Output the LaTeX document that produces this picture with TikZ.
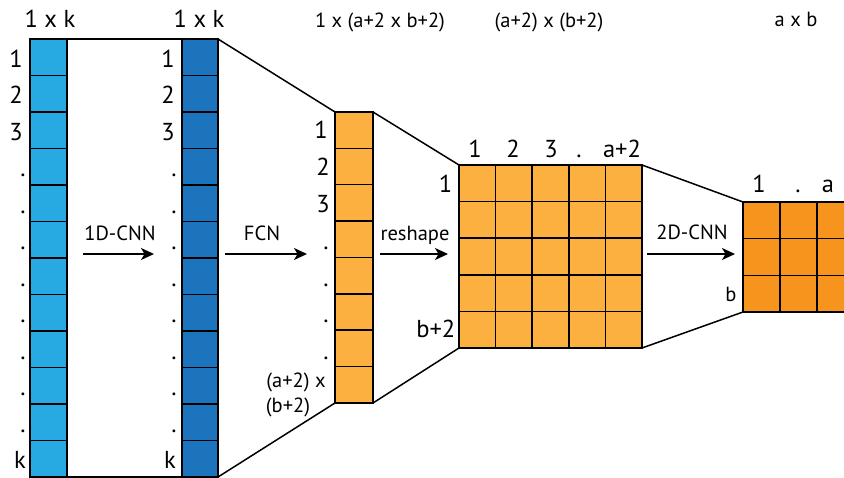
\documentclass[tikz,border=0pt]{standalone}
\usepackage{fontspec}
\setmainfont{PT Sans}
\usetikzlibrary{arrows.meta}
\definecolor{lblue}{HTML}{27AAE1}
\definecolor{dblue}{HTML}{1C75BC}
\definecolor{lorange}{HTML}{FBB040}
\definecolor{dorange}{HTML}{F7941D}
\begin{document}
\begin{tikzpicture}[x=1pt,y=-1pt,line width=1.5pt,
  cellbox/.style={draw=black,inner sep=0pt,outer sep=0pt,anchor=north west},
  bigtxt/.style={font=\fontsize{24.5}{25}\selectfont,inner sep=0pt,anchor=base},
  smalltxt/.style={font=\fontsize{20.5}{21}\selectfont,inner sep=0pt,anchor=base},
  flow/.style={-{Stealth[length=13pt,width=12pt,inset=3.5pt]},line width=1.5pt}]
\clip (0,0) rectangle (844,478);
% ---------- column 1 ----------
\node[cellbox,fill=lblue,minimum width=37pt,minimum height=438pt] (c1) at (30,39) {};
\foreach \i in {1,...,11} \draw (30,{39+36.5*\i}) -- (67,{39+36.5*\i});
\node[bigtxt] (c1l1) at (16,{39+36.5*1-8}) {1};
\node[bigtxt] (c1l2) at (16,{39+36.5*2-8}) {2};
\node[bigtxt] (c1l3) at (16,{39+36.5*3-8}) {3};
\foreach \i in {4,...,11} \node[bigtxt] (c1d\i) at (23,{39+36.5*\i-8}) {.};
\node[bigtxt] (c1lk) at (20,{39+36.5*12-9}) {k};
\node[bigtxt] (c1top) at (50,28) {1 x k};
% ---------- column 2 ----------
\node[cellbox,fill=dblue,minimum width=36pt,minimum height=438pt] (c2) at (182,39) {};
\foreach \i in {1,...,11} \draw (182,{39+36.5*\i}) -- (218,{39+36.5*\i});
\node[bigtxt] (c2l1) at (168,{39+36.5*1-8}) {1};
\node[bigtxt] (c2l2) at (168,{39+36.5*2-8}) {2};
\node[bigtxt] (c2l3) at (168,{39+36.5*3-8}) {3};
\foreach \i in {4,...,11} \node[bigtxt] (c2d\i) at (174,{39+36.5*\i-8}) {.};
\node[bigtxt] (c2lk) at (170,{39+36.5*12-9}) {k};
\node[bigtxt] (c2top) at (199,28) {1 x k};
% ---------- column 3 ----------
\node[cellbox,fill=lorange,minimum width=38pt,minimum height=291pt] (c3) at (335,112) {};
\foreach \i in {1,...,7} \draw (335,{112+36.375*\i}) -- (373,{112+36.375*\i});
\node[bigtxt] (c3l1) at (321,{112+36.375*1-9.5}) {1};
\node[bigtxt] (c3l2) at (323,{112+36.375*2-9}) {2};
\node[bigtxt] (c3l3) at (323,{112+36.375*3-9}) {3};
\foreach \i in {4,...,7} \node[bigtxt] (c3d\i) at (326,{112+36.375*\i-7.5}) {.};
\node[smalltxt] (c3la) at (296,388) {(a+2) x};
\node[smalltxt] (c3lb) at (288,413) {(b+2)};
\node[smalltxt] (c3top) at (380,28) {1 x (a+2 x b+2)};
% ---------- grid ----------
\node[cellbox,fill=lorange,minimum width=183pt,minimum height=183pt] (g) at (459,165) {};
\foreach \i in {1,...,4} {
  \draw (459,{165+36.6*\i}) -- (642,{165+36.6*\i});
  \draw ({459+36.6*\i},165) -- ({459+36.6*\i},348);
}
\node[bigtxt] (gc1) at (475,158) {1};
\node[bigtxt] (gc2) at (513,158) {2};
\node[bigtxt] (gc3) at (551,158) {3};
\node[bigtxt] (gc4) at (579,158) {.};
\node[bigtxt] (gc5) at (622,158) {a+2};
\node[bigtxt,anchor=base east] (gr1) at (453,193) {1};
\node[bigtxt,anchor=base east] (gr5) at (456,338) {b+2};
\node[smalltxt] (gtop) at (549,28) {(a+2) x (b+2)};
% ---------- right grid ----------
\node[cellbox,fill=dorange,minimum width=111pt,minimum height=110pt] (r) at (743,202) {};
\foreach \i in {1,2} {
  \draw (743,{202+36.67*\i}) -- (854,{202+36.67*\i});
  \draw ({743+37*\i},202) -- ({743+37*\i},312);
}
\node[bigtxt] (rc1) at (759,193) {1};
\node[bigtxt] (rc2) at (798,193) {.};
\node[bigtxt] (rc3) at (828,193) {a};
\node[smalltxt] (rr3) at (731,302) {b};
\node[smalltxt] (rtop) at (796,27) {a x b};
% ---------- connectors ----------
\draw (c1.north east) -- (c2.north west);
\draw (c1.south east) -- (c2.south west);
\draw (c2.north east) -- (c3.north west);
\draw (c2.south east) -- (c3.south west);
\draw (c3.north east) -- (g.north west);
\draw (c3.south east) -- (g.south west);
\draw (g.north east) -- (r.north west);
\draw (g.south east) -- (r.south west);
% ---------- arrows ----------
\coordinate (a1s) at (83,254);  \coordinate (a1e) at (154,254);
\coordinate (a2s) at (225,254); \coordinate (a2e) at (307,254);
\coordinate (a3s) at (380,254); \coordinate (a3e) at (448,254);
\coordinate (a4s) at (647,254); \coordinate (a4e) at (735,254);
\draw[flow] (a1s) -- (a1e);
\draw[flow] (a2s) -- (a2e);
\draw[flow] (a3s) -- (a3e);
\draw[flow] (a4s) -- (a4e);
\node[smalltxt] (t1) at (120,241) {1D-CNN};
\node[smalltxt] (t2) at (262,241) {FCN};
\node[smalltxt] (t3) at (415,241) {reshape};
\node[smalltxt] (t4) at (692,240) {2D-CNN};
\end{tikzpicture}
\end{document}
